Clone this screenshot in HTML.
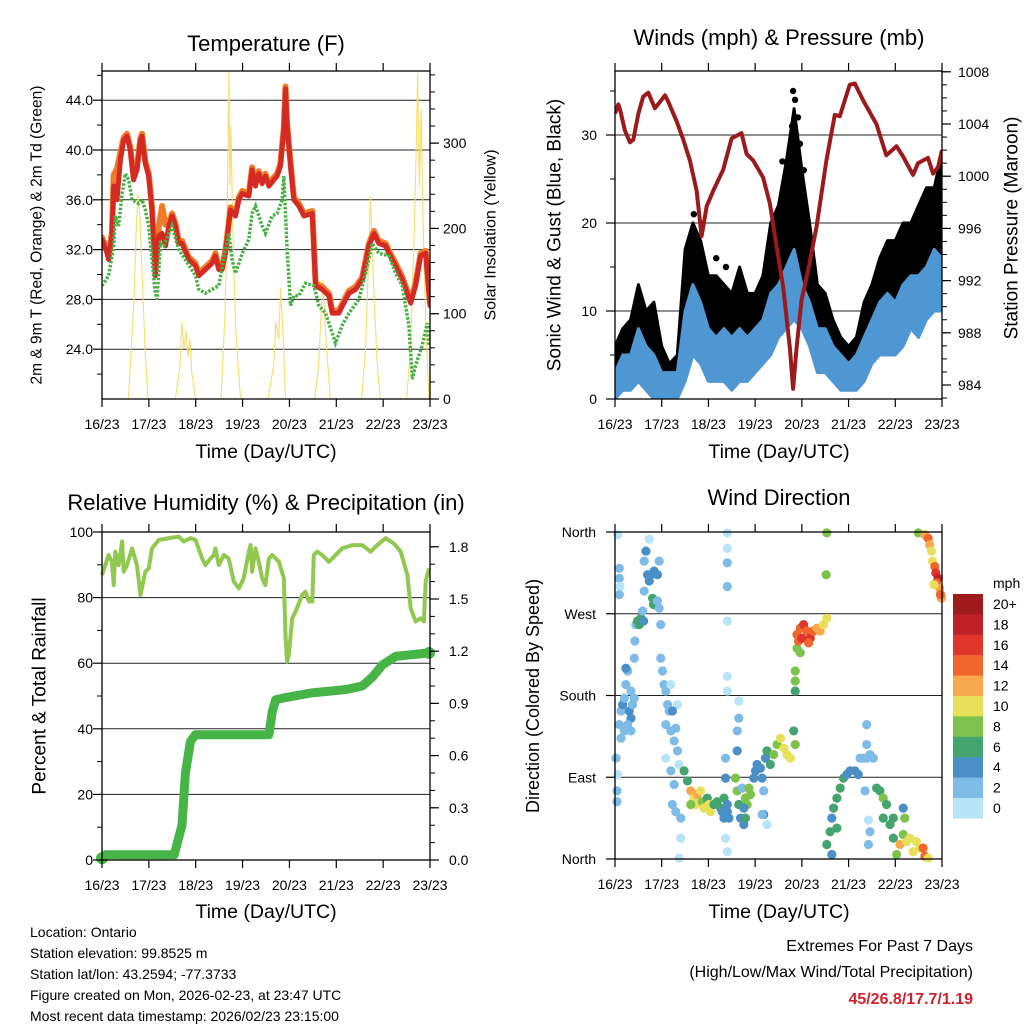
<!DOCTYPE html>
<html><head><meta charset="utf-8"><title>Station Meteogram</title>
<style>
html,body{margin:0;padding:0;background:#fff;}
svg{display:block;font-family:"Liberation Sans",Arial,sans-serif;}
</style></head>
<body>
<svg id="chart" xmlns="http://www.w3.org/2000/svg" width="1024" height="1024" viewBox="0 0 1024 1024">
<rect x="0" y="0" width="1024" height="1024" fill="#fff"/>
<defs>
<clipPath id="clipA"><rect x="102" y="71" width="328" height="328"/></clipPath>
<clipPath id="clipB"><rect x="615" y="71" width="327" height="328"/></clipPath>
<clipPath id="clipC"><rect x="96" y="527" width="340" height="338"/></clipPath>
<clipPath id="clipD"><rect x="609" y="527" width="340" height="338"/></clipPath>
</defs>
<text x="266" y="51" font-size="22" text-anchor="middle">Temperature (F)</text>
<text x="779" y="45" font-size="22" text-anchor="middle">Winds (mph) &amp; Pressure (mb)</text>
<text x="266" y="510" font-size="22" text-anchor="middle">Relative Humidity (%) &amp; Precipitation (in)</text>
<text x="779" y="505" font-size="22" text-anchor="middle">Wind Direction</text>

<text transform="translate(37,235) rotate(-90)" font-size="15.5" text-anchor="middle" dominant-baseline="central">2m &amp; 9m T (Red, Orange) &amp; 2m Td (Green)</text>
<text transform="translate(491,235) rotate(-90)" font-size="16" text-anchor="middle" dominant-baseline="central">Solar Insolation (Yellow)</text>
<text transform="translate(555,235) rotate(-90)" font-size="19" text-anchor="middle" dominant-baseline="central">Sonic Wind &amp; Gust (Blue, Black)</text>
<text transform="translate(1012,228) rotate(-90)" font-size="19" text-anchor="middle" dominant-baseline="central">Station Pressure (Maroon)</text>
<text transform="translate(40,696) rotate(-90)" font-size="19" text-anchor="middle" dominant-baseline="central">Percent &amp; Total Rainfall</text>
<text transform="translate(533,696) rotate(-90)" font-size="18" text-anchor="middle" dominant-baseline="central">Direction (Colored By Speed)</text>

<text x="266" y="458" font-size="19.5" text-anchor="middle">Time (Day/UTC)</text>
<text x="779" y="458" font-size="19.5" text-anchor="middle">Time (Day/UTC)</text>
<text x="266" y="918" font-size="19.5" text-anchor="middle">Time (Day/UTC)</text>
<text x="779" y="918" font-size="19.5" text-anchor="middle">Time (Day/UTC)</text>

<g font-size="14">
<text x="30" y="937">Location: Ontario</text>
<text x="30" y="958">Station elevation: 99.8525 m</text>
<text x="30" y="979">Station lat/lon: 43.2594; -77.3733</text>
<text x="30" y="1000">Figure created on Mon, 2026-02-23, at 23:47 UTC</text>
<text x="30" y="1021">Most recent data timestamp: 2026/02/23 23:15:00</text>
</g>
<text x="973" y="951" font-size="16" text-anchor="end">Extremes For Past 7 Days</text>
<text x="973" y="977" font-size="16" text-anchor="end">(High/Low/Max Wind/Total Precipitation)</text>
<text x="973" y="1004" font-size="16" font-weight="bold" fill="#d0222b" text-anchor="end">45/26.8/17.7/1.19</text>
</svg>
<script>
// ---------- DATA ----------
const dayLabels = ["16/23","17/23","18/23","19/23","20/23","21/23","22/23","23/23"];
const tempHours = [0,2.6,3.4,5.1,6,7.7,9.4,11.1,12.8,14.5,16.2,17.9,19.7,20.5,22.2,23.9,25.6,27.3,29.1,30.8,32.5,34.2,35.9,37.6,39.3,41,44.4,47.9,49.6,53,56.4,58.1,59.8,61.5,63.2,65.8,68.4,70.1,71.8,75.2,76.9,78.6,80.3,82,83.7,85.5,88,89.7,91.4,93.1,94,94.8,96.6,98.3,100.8,103.4,107.7,109.4,112.8,116.2,117.9,121.3,124.8,126.5,129.9,133.3,136.7,139.3,141.8,145.3,147,150.4,153.8,158.1,160.6,163.2,165.8,168];
const redTemp = [32.8,31.7,31.2,33.1,37.1,36.0,39.2,40.8,41.1,40.0,37.6,38.4,40.8,41.1,38.9,37.9,35.2,29.9,33.1,33.3,32.3,33.9,34.7,33.9,32.5,32.5,31.2,30.7,29.9,30.4,30.9,31.5,30.4,30.4,31.7,35.2,34.7,36.0,36.5,36.3,38.4,37.1,38.1,37.3,37.9,37.1,37.6,37.9,38.7,41.6,44.9,41.9,38.7,36.0,35.5,34.7,34.9,29.1,28.8,28.3,26.9,26.9,28.0,28.5,28.8,29.6,32.3,33.3,32.5,32.3,31.7,30.7,29.6,27.7,29.1,31.5,31.7,27.5];
const orangeTemp = [33.0,31.9,31.4,33.5,38.0,38.5,39.8,41.0,41.3,40.2,37.8,38.6,41.0,41.3,39.1,38.1,35.4,30.5,33.8,35.5,34.0,34.1,34.9,34.1,32.7,32.7,31.4,30.9,30.1,30.6,31.1,31.7,30.6,30.6,31.9,35.4,34.9,36.2,36.7,36.5,38.6,37.3,38.3,37.5,38.1,37.3,37.8,38.1,38.9,41.8,45.1,42.1,38.9,36.2,35.7,34.9,35.1,29.3,29.0,28.5,27.1,27.1,28.2,28.7,29.0,29.8,32.5,33.5,32.7,32.5,31.9,30.9,29.8,27.9,29.3,31.7,31.9,27.7];
const dewHours = [0,3.4,6,6.8,8.5,10.3,12,13.7,15.4,18.8,20.5,22.2,23.9,25.6,27.3,28.2,29.9,31.6,34.2,35.9,39.3,42.7,47.9,49.6,53,56.4,59.8,63.2,65,66.6,68.4,71.8,75.2,76.9,78.6,80.3,82,83.7,87.1,89.7,92.3,93.1,94.8,96.6,98.3,100.8,104.3,108.6,111.1,114.5,117.9,119.6,123,126.5,131.6,135,138.4,141.8,147,150.4,153.8,157.2,159,160.6,164,166.6,167.5];
const dewTemp = [29.1,29.9,32.3,34.7,33.9,36.5,38.1,37.6,36.0,35.7,36.0,35.2,33.9,31.2,28.5,28.0,32.5,32.3,33.3,33.9,32.0,31.2,29.9,28.8,28.5,28.8,29.1,32.0,33.3,31.2,30.1,31.7,32.8,34.9,35.5,34.7,33.9,33.3,34.7,34.9,36.0,37.9,32.0,27.5,28.3,28.3,29.3,29.1,27.5,26.9,25.3,24.5,25.9,26.9,28.0,30.1,32.5,31.7,31.5,30.1,29.1,25.9,21.6,22.7,24.3,26.1,24.3];
const solarHours = [0,13.5,15,16.5,17.5,18.5,19.5,20.5,22,23.5,37.6,40,41,42,43,44,45,46,48,61,63,64,65,65.5,66,67,68.5,71,85,88,89,90.5,91.5,92.2,93,94,109,111,112,113,114,115,117,133,135,136.5,137.5,138.5,139.5,141,142.5,156,158,160,161,161.7,162.5,163.5,164.5,166,167.5,168];
const solarWatts = [0,0,60,120,200,240,210,150,60,0,0,40,90,60,80,50,70,30,0,0,100,200,383,250,320,200,80,0,0,40,90,70,130,100,60,0,0,40,90,140,100,60,0,0,60,160,237,170,110,40,0,0,60,200,300,382,250,340,200,80,0,0];
const windHours = [0,4,8,12,16,20,24,28,32,36,40,44,48,52,56,60,64,68,72,76,80,84,88,92,96,100,104,108,112,116,120,124,128,132,136,140,144,148,152,156,160,164,168];
const windLow = [0,1,1,2,1,0,0,0,0,2,5,4,2,2,2,1,2,2,3,4,5,7,8,9,8,6,3,3,2,1,1,1,2,4,5,5,5,6,8,7,9,10,10];
const windHigh = [3,5,5,8,6,5,3,3,3,10,13,11,8,7,8,7,8,7,8,9,12,13,15,17,13,11,8,8,6,5,4,5,7,9,11,12,11,13,14,14,15,17,16];
const gustLow = [2,4,4,5,3,3,1,1,1,6,10,8,5,5,5,5,5,4,6,6,10,12,14,15,14,10,6,5,4,3,2,3,5,7,8,9,9,11,13,13,14,15,17];
const gustHigh = [6,8,9,13,10,11,6,4,5,17,20,18,14,14,13,12,15,12,12,14,20,22,27,33,26,20,13,12,9,7,6,7,11,13,16,18,18,20,20,22,24,24,28];
const gustOutHours = [89,91,91.5,92.5,93,94,86,95,97,40.5,52,57];
const gustOutMph = [25,31,35,34,30,32,27,29,26,21,16,15];
const presHours = [0,1.7,2.6,5.1,7.7,9.4,12,14.5,17.1,20.5,23.1,25.7,27.4,31.7,35.1,38.5,41.9,44.5,47.1,50.5,55.6,59.9,65,67.6,71,76.1,79.6,83,86.4,89.8,91.5,93.2,95.8,99.2,103.5,108.6,112.9,115.5,120.6,123.2,127.5,134.3,139.4,144.6,148,153.1,155.7,160.8,163.4,166,168];
const presMb = [1004.8,1005.5,1005.1,1003.5,1002.6,1002.8,1004.8,1006.1,1006.4,1005.2,1005.7,1006.2,1005.7,1004.2,1002.8,1001.2,998.9,995.4,997.7,998.9,1000.5,1002.9,1003.3,1001.7,1001.2,999.9,997.9,994.6,991.5,986.9,983.7,986.7,990.5,992.8,996.1,1001.2,1004.7,1004.6,1007.0,1007.1,1005.8,1004.0,1001.6,1002.3,1001.5,1000.1,1001.0,1001.4,1000.2,1000.7,1002.0];
const rhHours = [0,1.7,3.4,5.1,6,6.8,8.5,10.3,11.1,12.8,15.4,17.9,19.7,22.2,23.9,25.6,29.1,39.3,41.9,45.3,47.9,51.3,53,55.5,57.3,58.1,59.8,62.4,64.9,67.5,70.1,72.6,75.2,76.1,76.9,78.6,80.3,82,83.7,85.5,87.2,90.6,93.1,94,94.8,95.7,97.4,99.1,102.5,104.2,106,107.7,108.5,110.2,112.8,116.2,117.9,123,128.2,133.3,137.6,141,145.3,149.5,153,156.4,158.1,160.6,163.2,164.9,165.8,167.5];
const rhPct = [86.9,89.9,93.0,90.9,83.8,94.0,89.9,97.1,87.9,89.9,95.0,89.9,80.8,87.9,88.9,95.0,97.6,98.6,97.1,98.1,97.6,91.9,89.9,91.9,93.0,95.0,89.9,93.0,91.9,84.9,82.8,85.9,94.0,96.0,87.9,95.0,90.9,85.9,83.8,91.9,93.0,90.9,85.9,68.6,60.5,62.5,73.7,75.7,80.8,81.8,78.8,78.8,93.0,94.0,93.0,90.9,91.9,95.0,96.0,96.0,94.0,96.0,98.1,96.5,94.0,86.9,76.7,72.7,73.7,72.7,84.9,88.9];
const precipHours = [0,1.7,37,41,42.7,45.3,47.9,85.5,87.2,88.9,92.3,107,125,133.3,138.4,143.5,150.4,167.5];
const precipIn = [0.01,0.03,0.03,0.2,0.5,0.68,0.72,0.72,0.85,0.92,0.93,0.96,0.98,1.0,1.05,1.12,1.17,1.19];
const dirHours = [1.4,2.2,2.2,2.6,2.2,0.5,1.4,1,1,2.2,3.1,3.9,4.8,5.6,6.5,5.6,7.3,8.2,9,8.2,3.1,4.8,6.5,8.2,9.9,9.9,10.2,10.7,11.6,12.5,13.3,14.2,14.7,15,16.7,17.6,18.4,20.1,21.8,15.9,17.6,15,19.3,19.8,22.7,21.8,22.7,23.5,23.5,24.4,25.2,26.1,27,27.8,26.1,28.7,30.4,32.1,32.9,26.1,28.7,30.4,29.5,31.2,33.8,33.8,32.9,28.7,32.1,29.5,31.2,
35.5,37.2,38.9,40.6,42.3,44,41.5,38.9,44.9,45.7,47.4,48.3,49.1,50.8,52.5,54.3,55.1,56,56.8,57.7,58.5,61.9,62.8,63.6,64.5,66.2,65.3,67,67.9,68.8,69.6,71.3,72.2,73,74.7,75.6,76.4,77.3,78.1,79.8,81.5,83.3,85,86.7,88.4,90.1,91.8,92.6,56,56.8,57.7,57.7,57.7,57.7,57.7,57.7,57.7,57.7,63.6,63.6,62.8,62.8,56.8,57.7,66.2,67,76.4,78.1,75.6,
92.6,92.6,92.6,95.2,93.5,93.5,95.2,96.9,98.6,100.3,102,103.7,105.4,107.1,108.8,94.3,96,99.5,108.5,108.8,
108.8,110.5,111.4,112.3,114,115.7,117.4,119.1,120.8,123.3,125,125.9,127.6,129.3,131,132.7,129.3,129.3,128.5,130.2,130.2,131,134.4,136.1,137.8,139.5,137.8,141.3,143,144.7,146.4,148.1,148.9,148.1,149.8,151.5,153.2,154.9,156.6,158.3,159.2,160.9,143,111.4,114,
155.8,159.2,160.9,161.7,162.6,163.1,164.3,164.8,166,165.1,166.8,167.7,167.2,163.8];
const dirDegrees = [357,320,309,300,291,111,93,75,63,148,163,170,177,192,207,210,163,155,170,185,133,141,148,141,177,221,240,258,262,258,265,273,262,328,313,306,313,317,313,339,352,295,287,280,328,284,276,258,221,207,192,185,170,163,148,141,130,119,104,111,97,82,60,52,45,23,1,192,170,163,144,
97,86,75,67,71,75,60,60,63,56,67,60,52,60,63,56,52,67,89,52,45,89,75,60,45,38,78,67,60,78,71,89,97,104,100,89,75,111,119,104,115,126,133,122,115,111,141,126,45,23,8,359,342,326,300,262,201,185,174,155,141,119,111,60,56,45,49,38,49,
185,196,207,227,232,247,254,258,251,243,251,254,251,258,265,240,243,238,313,359,
16,30,45,56,67,78,89,93,97,97,93,111,111,111,115,111,148,126,75,43,16,30,78,75,67,60,45,38,23,5,16,27,45,56,19,23,8,19,12,12,3,1,45,5,34,
359,357,353,346,339,328,322,315,309,304,298,287,291,302];
const dirSpeeds = [1,3,3,1,3,3,1,3,3,3,3,5,3,3,3,5,5,5,3,3,3,3,3,3,3,3,3,3,6,7,6,3,5,3,5,5,5,5,5,5,1,3,7,6,3,3,3,3,3,3,3,3,3,3,3,3,3,3,1,1,3,3,3,3,3,1,1,1,1,5,3,
6,7,12,10,12,11,10,8,9,10,7,10,10,7,7,7,5,6,5,5,5,8,8,6,5,5,3,8,9,9,8,5,5,5,5,5,3,5,7,7,8,9,10,10,11,10,7,8,5,1,1,1,1,3,3,1,1,1,1,3,3,5,3,5,5,7,5,1,3,
7,8,8,8,9,14,14,16,15,16,14,12,12,10,10,14,16,15,8,8,
7,6,5,7,7,7,6,5,5,5,4,3,3,3,3,3,3,3,3,1,3,3,6,7,8,7,6,7,7,8,12,9,8,5,10,10,10,10,11,14,14,10,6,5,7,
8,12,14,12,10,10,14,16,18,14,12,12,14,10];
const speedBins = ["0","2","4","6","8","10","12","14","16","18","20+"];
const speedColors = ["#b8e4f8","#7ebbe6","#4a8fc6","#45a46e","#7dc24b","#e8e05a","#f9a84b","#f0662c","#e0352a","#c0202a","#9e1a1d"];

// ---------- HELPERS ----------
const NS = "http://www.w3.org/2000/svg";
const svg = document.getElementById("chart");
function mk(tag, attrs, parent) {
  const e = document.createElementNS(NS, tag);
  for (const k in attrs) e.setAttribute(k, attrs[k]);
  (parent || svg).appendChild(e);
  return e;
}
const A = {x0:102, x1:430, y0:71, y1:399};
const B = {x0:615, x1:942, y0:71, y1:399};
const C = {x0:102, x1:430, y0:532, y1:860};
const D = {x0:615, x1:942, y0:532, y1:859};
function xh(P, h) { return P.x0 + h / 168 * (P.x1 - P.x0); }
const yT = v => 399 - (v - 20) * 12.45;
const yS = v => 399 - v * 0.853;
const yW = v => 399 - v * 8.8;
const yP = v => 385 - (v - 984) * 13.05;
const yRH = v => 860 - v * 3.28;
const yPr = v => 860 - v * 174;
const yD = d => D.y1 - d * (D.y1 - D.y0) / 360;
function pathD(P, hs, vs, ys) {
  let d = "";
  for (let i = 0; i < hs.length; i++) d += (i ? "L" : "M") + xh(P, hs[i]).toFixed(1) + "," + ys(vs[i]).toFixed(1);
  return d;
}
function grid(P, vals, ys, name) {
  vals.forEach(v => {
    const g = mk("line", {x1:P.x0, x2:P.x1, y1:ys(v), y2:ys(v), stroke:"#222", "stroke-width":1});
    
    
  });
}
function frame(P, name) {
  const r = mk("rect", {x:P.x0, y:P.y0, width:P.x1-P.x0, height:P.y1-P.y0, fill:"none", stroke:"#000", "stroke-width":1.3});
  
  
  for (let d = 0; d <= 7; d++) {
    const x = xh(P, d * 24);
    const tb = mk("line", {x1:x, x2:x, y1:P.y1, y2:P.y1 + 8, stroke:"#000", "stroke-width":1.2});
    
    
    const tt = mk("line", {x1:x, x2:x, y1:P.y0, y2:P.y0 - 8, stroke:"#000", "stroke-width":1.2});
    
    
    const lb = mk("text", {x:x, y:P.y1 + 30, "font-size":14, "text-anchor":"middle"});
    lb.textContent = dayLabels[d];
    
    
  }
}
function yAxis(P, side, ys, majors, minors, labels, lx, anchor) {
  const x = side === "left" ? P.x0 : P.x1;
  const s = side === "left" ? -1 : 1;
  minors.forEach(v => {
    const t = mk("line", {x1:x, x2:x + s * 5, y1:ys(v), y2:ys(v), stroke:"#000", "stroke-width":1});
    
    
  });
  majors.forEach((v, i) => {
    const t = mk("line", {x1:x, x2:x + s * 9, y1:ys(v), y2:ys(v), stroke:"#000", "stroke-width":1.2});
    
    
    if (labels) {
      const l = mk("text", {x:lx, y:ys(v) + 5, "font-size":14, "text-anchor":anchor});
      l.textContent = labels[i];
      
      
    }
  });
}
function range(a, b, s) { const r = []; for (let v = a; v <= b + 1e-9; v += s) r.push(+v.toFixed(3)); return r; }

// ---------- PANEL A: TEMPERATURE ----------
grid(A, [24,28,32,36,40,44], yT, "temperature-gridline");
const gA = mk("g", {"clip-path":"url(#clipA)"});


const solarLine = mk("path", {d:pathD(A, solarHours, solarWatts, yS), fill:"none", stroke:"#f6dd6a", "stroke-width":1.1}, gA);


const orangeLine = mk("path", {d:pathD(A, tempHours, orangeTemp, yT), fill:"none", stroke:"#f07c2a", "stroke-width":6, "stroke-linejoin":"round", "stroke-linecap":"round"}, gA);


const redLine = mk("path", {d:pathD(A, tempHours, redTemp, yT), fill:"none", stroke:"#d42a24", "stroke-width":5, "stroke-linejoin":"round", "stroke-linecap":"round"}, gA);


const dewLine = mk("path", {d:pathD(A, dewHours, dewTemp, yT), fill:"none", stroke:"#48b045", "stroke-width":3.5, "stroke-dasharray":"2.5 1.6"}, gA);


frame(A, "temperature-plot-frame");
yAxis(A, "left", yT, [24,28,32,36,40,44], [22,26,30,34,38,42,46], ["24.0","28.0","32.0","36.0","40.0","44.0"], 93, "end");
yAxis(A, "right", yS, [0,100,200,300], range(20,380,20), ["0","100","200","300"], 443, "start");

// ---------- PANEL B: WINDS ----------
grid(B, [10,20,30], yW, "wind-gridline");
const gB = mk("g", {"clip-path":"url(#clipB)"});


function band(P, hs, lo, hi, ys) {
  let d = "";
  for (let i = 0; i < hs.length; i++) d += (i ? "L" : "M") + xh(P, hs[i]).toFixed(1) + "," + ys(hi[i]).toFixed(1);
  for (let i = hs.length - 1; i >= 0; i--) d += "L" + xh(P, hs[i]).toFixed(1) + "," + ys(lo[i]).toFixed(1);
  return d + "Z";
}
const gustBand = mk("path", {d:band(B, windHours, gustLow, gustHigh, yW), fill:"#000", stroke:"#000", "stroke-width":3, "stroke-linejoin":"round"}, gB);


gustOutHours.forEach((h, i) => {
  const c = mk("circle", {cx:xh(B, h), cy:yW(gustOutMph[i]), r:3.2, fill:"#000"}, gB);
  
  
});
const windBand = mk("path", {d:band(B, windHours, windLow, windHigh, yW), fill:"#4f97d2", stroke:"#4f97d2", "stroke-width":3, "stroke-linejoin":"round"}, gB);


const presLine = mk("path", {d:pathD(B, presHours, presMb, yP), fill:"none", stroke:"#9b1b1d", "stroke-width":4, "stroke-linejoin":"round"}, gB);


frame(B, "winds-plot-frame");
yAxis(B, "left", yW, [0,10,20,30], [5,15,25,35], ["0","10","20","30"], 597, "end");
yAxis(B, "right", yP, [984,988,992,996,1000,1004,1008], range(983,1008,1), ["984","988","992","996","1000","1004","1008"], 958, "start");

// ---------- PANEL C: HUMIDITY & PRECIP ----------
grid(C, [20,40,60,80], yRH, "humidity-gridline");
const gC = mk("g", {"clip-path":"url(#clipC)"});


const rhLine = mk("path", {d:pathD(C, rhHours, rhPct, yRH), fill:"none", stroke:"#90c850", "stroke-width":4, "stroke-linejoin":"round"}, gC);


const prLine = mk("path", {d:pathD(C, precipHours, precipIn, yPr), fill:"none", stroke:"#46b446", "stroke-width":9, "stroke-linejoin":"round", "stroke-linecap":"round"}, gC);


const prStart = mk("circle", {cx:xh(C, precipHours[0]), cy:yPr(precipIn[0]), r:6, fill:"#46b446"}, gC);


const prEnd = mk("circle", {cx:xh(C, precipHours[precipHours.length-1]), cy:yPr(precipIn[precipIn.length-1]), r:6, fill:"#46b446"}, gC);


frame(C, "humidity-plot-frame");
yAxis(C, "left", yRH, [0,20,40,60,80,100], [10,30,50,70,90], ["0","20","40","60","80","100"], 93, "end");
yAxis(C, "right", yPr, [0,0.3,0.6,0.9,1.2,1.5,1.8], range(0.1,1.8,0.1), ["0.0","0.3","0.6","0.9","1.2","1.5","1.8"], 449, "start");

// ---------- PANEL D: WIND DIRECTION ----------
grid(D, [90,180,270], yD, "direction-gridline");
const gD = mk("g", {"clip-path":"url(#clipD)"});


dirHours.forEach((h, i) => {
  const idx = Math.min(10, Math.floor(dirSpeeds[i] / 2));
  const c = mk("circle", {cx:xh(D, h), cy:yD(dirDegrees[i]), r:4.6, fill:speedColors[idx]}, gD);
  
  
});
frame(D, "direction-plot-frame");
yAxis(D, "left", yD, [0,90,180,270,360], [], ["North","East","South","West","North"], 596, "end");

// colorbar
const cbTitle = mk("text", {x:993, y:588, "font-size":14});
cbTitle.textContent = "mph";


speedColors.forEach((col, i) => {
  const k = speedColors.length - 1 - i;
  const y = 594 + i * 20.4;
  const r = mk("rect", {x:953, y:y, width:30, height:20.6, fill:speedColors[k]});
  
  
  const t = mk("text", {x:993, y:y + 15, "font-size":14});
  t.textContent = speedBins[k];
  
  
});
</script>
</body></html>
